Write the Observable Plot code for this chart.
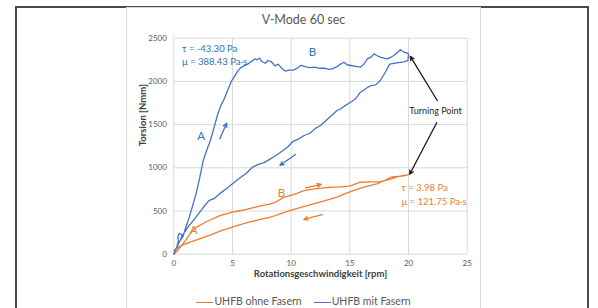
<!DOCTYPE html>
<html><head><meta charset="utf-8">
<script src="https://cdn.jsdelivr.net/npm/d3@7"></script>
<script src="https://cdn.jsdelivr.net/npm/@observablehq/plot@0.6"></script>
<style>
body{margin:0;background:#fff;width:598px;height:308px;overflow:hidden;position:relative;font-family:Lato,"Open Sans",sans-serif;}
#outer{position:absolute;left:15px;top:6px;width:574px;height:320px;border:2px solid #4a4a4a;box-sizing:border-box;}
#chartbox{position:absolute;left:126px;top:7px;width:355px;height:320px;border:1px solid #d9d9d9;box-sizing:border-box;}
#title{position:absolute;left:127px;width:353px;top:12px;text-align:center;font-size:12.5px;color:#595959;}
#plot{position:absolute;left:127px;top:8px;}
#legend{position:absolute;left:127px;width:353px;top:295px;text-align:center;font-size:10.5px;color:#595959;white-space:nowrap;}
#legend .sw{display:inline-block;width:17px;height:0;border-top:1.5px solid;vertical-align:middle;margin-right:1px;}
#legend .it{margin:0 6px;}
</style></head>
<body>
<div id="outer"></div>
<div id="chartbox"></div>
<div id="title">V-Mode 60 sec</div>
<div id="plot"></div>
<div id="legend"></div>
<script>
const xTicks = [0, 5, 10, 15, 20, 25];
const yTicks = [0, 500, 1000, 1500, 2000, 2500];
const seriesNames = ["UHFB ohne Fasern", "UHFB mit Fasern"];
const seriesColors = ["#ED7D31", "#4472C4"];

// UHFB mit Fasern: up (A, B) then back down
const blueUp = [[0,0],[0.2,60],[0.4,150],[0.35,200],[0.45,240],[0.7,225],[0.6,170],[0.8,210],[1.0,300],[1.3,420],[1.6,560],[1.9,700],[2.2,880],[2.5,1080],[2.8,1200],[3.1,1310],[3.4,1450],[3.7,1600],[4.0,1720],[4.3,1800],[4.6,1900],[4.9,2000],[5.1,2040],[5.4,2110],[5.7,2160],[6.0,2180],[6.3,2200],[6.6,2230],[6.9,2260],[7.1,2250],[7.3,2270],[7.5,2230],[7.8,2210],[8.0,2240],[8.3,2230],[8.6,2180],[8.9,2200],[9.2,2150],[9.5,2120],[9.8,2130],[10.2,2130],[10.5,2150],[10.8,2185],[11.2,2170],[11.6,2160],[12.0,2165],[12.4,2150],[12.8,2155],[13.2,2140],[13.5,2146],[13.9,2170],[14.2,2200],[14.5,2222],[14.8,2190],[15.1,2184],[15.5,2175],[15.9,2164],[16.2,2200],[16.5,2261],[16.8,2280],[17.05,2319],[17.3,2300],[17.6,2280],[17.9,2270],[18.2,2261],[18.5,2280],[18.75,2300],[19.0,2330],[19.3,2366],[19.6,2340],[19.9,2327],[20.0,2320]];
const blueDown = [[20.0,2320],[19.95,2240],[19.6,2225],[19.0,2215],[18.4,2200],[18.0,2100],[17.6,2010],[17.2,1960],[16.8,1950],[16.5,1930],[16.2,1900],[15.9,1875],[15.5,1800],[15.06,1759],[14.6,1720],[14.2,1680],[13.9,1663],[13.4,1600],[12.9,1540],[12.5,1490],[12.1,1460],[11.6,1400],[11.1,1374],[10.6,1330],[10.2,1310],[9.7,1240],[9.1,1181],[8.7,1142],[8.2,1100],[7.7,1060],[7.2,1040],[6.7,1007],[6.2,940],[5.6,880],[5.0,815],[4.5,760],[4.0,710],[3.5,650],[3.0,620],[2.5,540],[2.0,450],[1.6,380],[1.2,313],[0.8,230],[0.4,120],[0.1,30],[0,0]];
// UHFB ohne Fasern: up (upper curve) then back down (lower curve)
const orangeUp = [[0,0],[0.3,40],[0.6,90],[1.0,159],[1.3,220],[1.57,274],[2.0,320],[2.7,370],[3.3,410],[4.0,450],[4.98,486],[5.5,500],[6.2,520],[6.96,544],[7.6,565],[8.24,583],[8.67,602],[9.38,660],[10.2,690],[11.1,737],[12.0,755],[12.8,768],[13.36,775],[14.2,780],[15.06,790],[15.5,815],[15.9,833],[16.8,838],[17.6,840],[18.2,861],[18.6,875],[19.05,899],[19.5,910],[19.9,919],[20.0,920]];
const orangeDown = [[20.0,920],[19.5,905],[18.5,891],[17.9,850],[17.3,815],[16.2,775],[15.3,737],[14.6,700],[13.9,660],[12.9,620],[11.9,583],[10.9,545],[9.95,506],[9.1,470],[8.67,448],[8.24,428],[7.3,400],[6.39,370],[5.6,340],[4.98,313],[4.0,270],[2.98,216],[2.0,170],[1.0,120],[0.5,90],[0.15,62],[0,40]];

// annotations (data units)
const blueLabels = [
  {x: 0.7, y: 2370, t: "τ = -43.30 Pa", s: 9.5},
  {x: 0.7, y: 2220, t: "μ = 388.43 Pa·s", s: 9.5},
  {x: 2.0, y: 1360, t: "A", s: 11.5},
  {x: 11.5, y: 2340, t: "B", s: 11.5}
];
const orangeLabels = [
  {x: 19.4, y: 768, t: "τ = 3.98 Pa", s: 9.5},
  {x: 19.4, y: 610, t: "μ = 121.75 Pa·s", s: 9.5},
  {x: 1.35, y: 282, t: "A", s: 11.5},
  {x: 8.85, y: 699, t: "B", s: 11.5}
];
const blackLabels = [{x: 22.3, y: 1652, t: "Turning Point", s: 9}];
const blueArrows = [{x1: 3.92, y1: 1335, x2: 4.5, y2: 1516}, {x1: 10.37, y1: 1154, x2: 9.04, y2: 1027}];
const orangeArrows = [{x1: 11.23, y1: 768, x2: 12.57, y2: 807}, {x1: 12.65, y1: 459, x2: 11.08, y2: 402}];
const blackArrows = [{x1: 22.45, y1: 1779, x2: 20.15, y2: 2290}, {x1: 22.4, y1: 1521, x2: 20.1, y2: 925}];

const toObj = a => a.map(([x, y]) => ({x, y}));
const blue = toObj(blueUp.concat(blueDown));
const orange = toObj(orangeUp.concat(orangeDown));

const lbl = (data, fill) => Plot.text(data, {x: "x", y: "y", text: "t", fill, fontSize: d => d.s, textAnchor: "start"});
const lblC = (data, fill) => Plot.text(data, {x: "x", y: "y", text: "t", fill, fontSize: d => d.s, textAnchor: "middle"});
const arr = (data, stroke) => Plot.arrow(data, {x1: "x1", y1: "y1", x2: "x2", y2: "y2", stroke, strokeWidth: 1.3, headLength: 5, headAngle: 50});

const chart = Plot.plot({
  width: 353, height: 282,
  marginLeft: 46.3, marginRight: 13.3, marginTop: 29.7, marginBottom: 36.3,
  style: {fontFamily: "Lato, 'Open Sans', sans-serif", fontSize: "8px", color: "#595959", background: "transparent", overflow: "visible"},
  x: {domain: [0, 25]},
  y: {domain: [0, 2500]},
  marks: [
    Plot.gridX(xTicks, {stroke: "#d9d9d9", strokeOpacity: 1}),
    Plot.gridY(yTicks, {stroke: "#d9d9d9", strokeOpacity: 1}),
    Plot.axisX({ticks: xTicks, tickSize: 0, tickPadding: 6, label: null, fill: "#595959", fontSize: 8, tickFormat: d3.format("d")}),
    Plot.axisY({ticks: yTicks, tickSize: 0, tickPadding: 7, label: null, fill: "#595959", fontSize: 8, tickFormat: d3.format("d")}),
    Plot.text(["Torsion [Nmm]"], {frameAnchor: "left", dx: -31, rotate: -90, text: d => d, fontWeight: "bold", fontSize: 9.5, fill: "#404040"}),
    Plot.text(["Rotationsgeschwindigkeit [rpm]"], {frameAnchor: "bottom", dy: 23, text: d => d, fontWeight: "bold", fontSize: 9.5, fill: "#404040"}),
    Plot.line(orange, {x: "x", y: "y", stroke: seriesColors[0], strokeWidth: 1.3}),
    Plot.line(blue, {x: "x", y: "y", stroke: seriesColors[1], strokeWidth: 1.3}),
    arr(blueArrows, "#4472C4"),
    arr(orangeArrows, "#ED7D31"),
    arr(blackArrows, "#1a1a1a"),
    lbl(blueLabels, "#2E75B6"),
    lbl(orangeLabels, "#ED7D31"),
    lblC(blackLabels, "#262626")
  ]
});
document.getElementById("plot").appendChild(chart);

document.getElementById("legend").innerHTML = seriesNames.map((n, i) =>
  `<span class="it"><span class="sw" style="border-color:${seriesColors[i]}"></span>${n}</span>`).join("");
</script>
</body></html>
